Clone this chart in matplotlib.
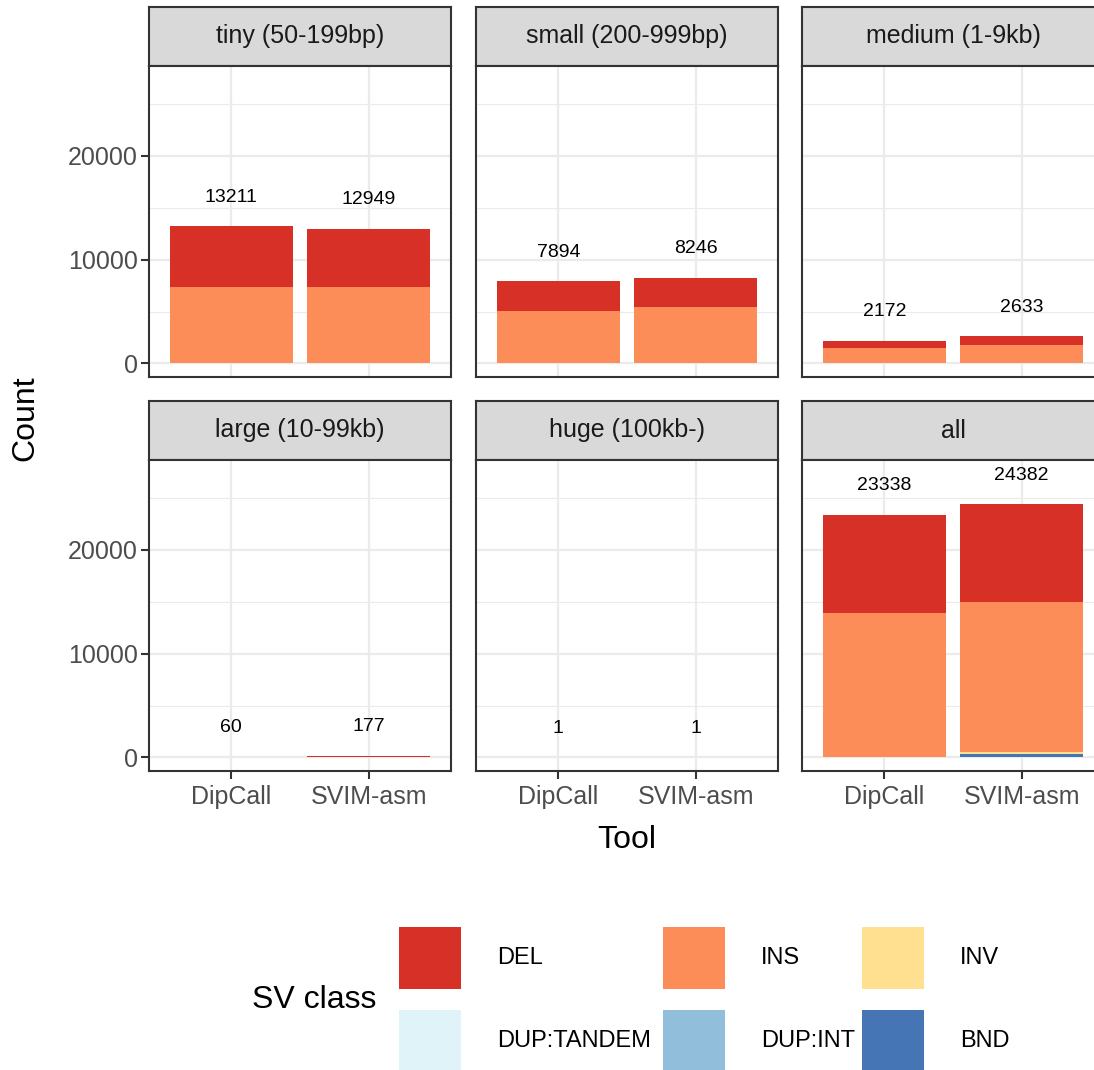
import matplotlib
matplotlib.use("Agg")
import matplotlib.pyplot as plt
from matplotlib.patches import Rectangle
import numpy as np

plt.rcParams["font.family"] = ["Liberation Sans", "DejaVu Sans"]

# Data
tools = ["DipCall", "SVIM-asm"]
panels = ["tiny (50-199bp)", "small (200-999bp)", "medium (1-9kb)",
          "large (10-99kb)", "huge (100kb-)", "all"]
classes = ["DEL", "INS", "INV", "DUP:TANDEM", "DUP:INT", "BND"]
colors = ["#D73027", "#FC8D59", "#FEE090", "#E0F3F8", "#91BFDB", "#4575B4"]

# counts per panel: [DipCall, SVIM-asm]
del_counts = [[5881, 5629], [2834, 2806], [712, 813], [30, 130], [1, 1], [9458, 9379]]
ins_counts = [[7330, 7300], [5060, 5400], [1460, 1780], [30, 40], [0, 0], [13880, 14520]]
inv_counts = [[0, 20], [0, 40], [0, 40], [0, 7], [0, 0], [0, 107]]
dup_tandem_counts = [[0, 0], [0, 0], [0, 0], [0, 0], [0, 0], [0, 0]]
dup_int_counts = [[0, 0], [0, 0], [0, 0], [0, 0], [0, 0], [0, 0]]
bnd_counts = [[0, 0], [0, 0], [0, 0], [0, 0], [0, 0], [0, 376]]

series = [del_counts, ins_counts, inv_counts, dup_tandem_counts,
          dup_int_counts, bnd_counts]

W, H = 1094, 1070
fig = plt.figure(figsize=(W / 100, H / 100), dpi=100)


def rect(x0, y0, x1, y1):
    return [x0 / W, 1 - y1 / H, (x1 - x0) / W, (y1 - y0) / H]


col_x = [(149, 451), (476, 778), (802, 1104)]
row_y = [(7, 66, 377), (401, 460, 771)]
grey20 = "#333333"
grey30 = "#4D4D4D"
grid_col = "#EBEBEB"
xs = np.arange(1, len(tools) + 1)

for i, name in enumerate(panels):
    r, c = divmod(i, 3)
    x0, x1 = col_x[c]
    s0, p0, p1 = row_y[r]

    # strip
    sax = fig.add_axes(rect(x0, s0, x1, p0))
    sax.set_facecolor("#D9D9D9")
    sax.set_xticks([])
    sax.set_yticks([])
    for sp in sax.spines.values():
        sp.set_color(grey20)
        sp.set_linewidth(1.5)
    sax.text(0.5, 0.5, name, ha="center", va="center", fontsize=18,
             color="#1A1A1A", transform=sax.transAxes)

    ax = fig.add_axes(rect(x0, p0, x1, p1))
    ax.set_xlim(0.4, 2.6)
    ax.set_ylim(-1300, 28630)
    ax.set_yticks([0, 10000, 20000])
    ax.set_yticks([5000, 15000, 25000], minor=True)
    ax.set_xticks(xs)
    ax.grid(True, which="major", color=grid_col, linewidth=1.6, zorder=0)
    ax.grid(True, which="minor", axis="y", color=grid_col, linewidth=0.8, zorder=0)
    ax.set_axisbelow(True)
    for sp in ax.spines.values():
        sp.set_color(grey20)
        sp.set_linewidth(1.5)
    ax.tick_params(which="major", length=6, width=1.5, color=grey20,
                   labelsize=18, labelcolor=grey30, pad=4)
    ax.tick_params(axis="y", which="major", pad=2)
    ax.tick_params(which="minor", length=0)

    # stack from bottom (BND) to top (DEL)
    bottom = np.zeros(len(tools))
    for k in range(len(classes) - 1, -1, -1):
        vals = np.array(series[k][i], dtype=float)
        ax.bar(xs, vals, width=0.9, bottom=bottom, color=colors[k],
               linewidth=0, zorder=2)
        bottom += vals
    for x, tot in zip(xs, bottom):
        ax.text(x, tot + 2800, f"{int(tot)}", ha="center", va="center",
                fontsize=14, color="black", zorder=3)

    if c != 0:
        ax.tick_params(axis="y", which="both", left=False, labelleft=False)
    if r == 0:
        ax.tick_params(axis="x", bottom=False, labelbottom=False)
    else:
        ax.set_xticklabels(tools)

fig.text(25 / W, 1 - 418 / H, "Count", rotation=90, ha="center", va="center",
         fontsize=23)
fig.text(627 / W, 1 - 840 / H, "Tool", ha="center", va="center", fontsize=23)

# legend drawn in pixel coordinates
lax = fig.add_axes([0, 0, 1, 1], facecolor="none")
lax.set_xlim(0, W)
lax.set_ylim(H, 0)
lax.axis("off")
lax.text(314, 1000, "SV class", ha="center", va="center", fontsize=23)
key_x = [399, 663, 862]
key_y = [927, 1010]
for k, (lab, colr) in enumerate(zip(classes, colors)):
    rr, cc = divmod(k, 3)
    kx, ky = key_x[cc], key_y[rr]
    lax.add_patch(Rectangle((kx, ky), 62, 62, facecolor=colr, edgecolor="none"))
    lax.text(kx + 98, ky + 31, lab, ha="left", va="center", fontsize=17)

fig.savefig("out.png", dpi=100)
